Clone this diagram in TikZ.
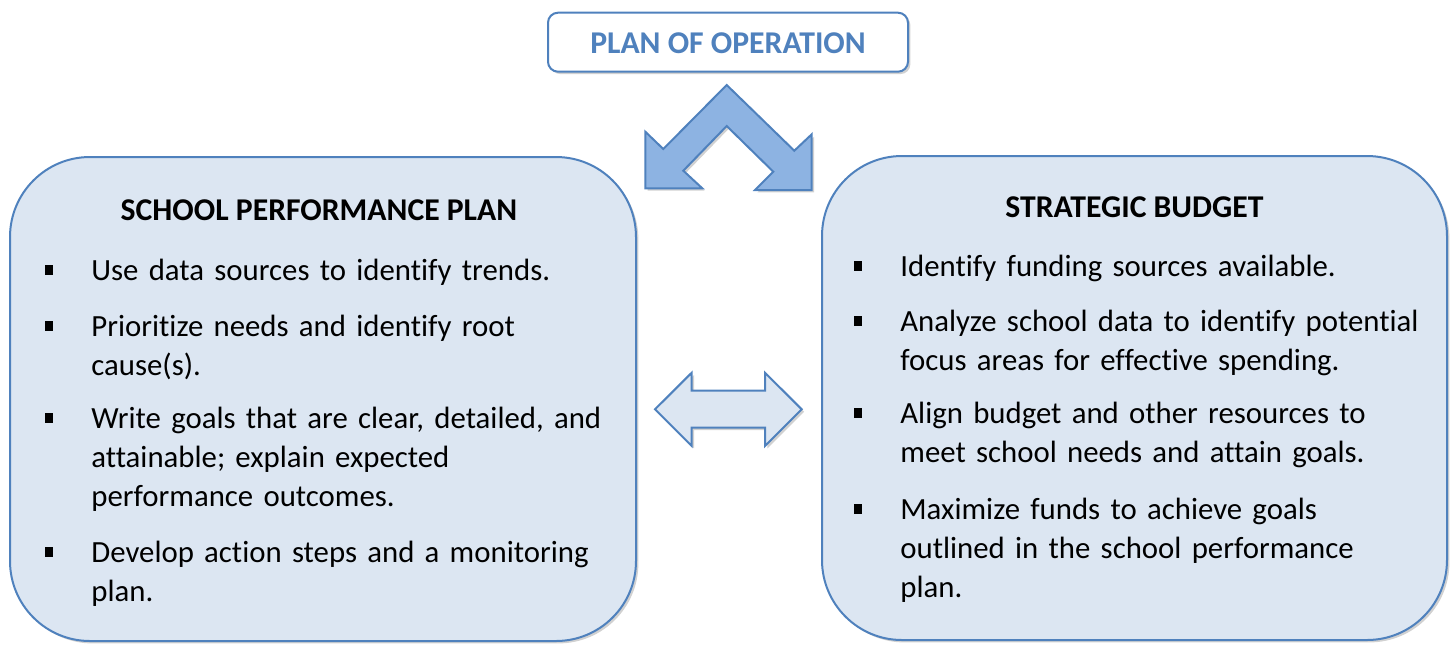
\documentclass[tikz,border=0pt]{standalone}
\usepackage{fontspec}
\setmainfont{Carlito}[Ligatures=NoCommon]
\usetikzlibrary{shadows}

\definecolor{planblue}{HTML}{4F81BD}
\definecolor{panelfill}{HTML}{DCE6F2}
\definecolor{bendfill}{HTML}{8DB3E2}

\newcommand{\planfont}{\fontsize{15.85pt}{19.5pt}\selectfont}
\newcommand{\itemfont}{\fontsize{15.4pt}{19.5pt}\selectfont}

\tikzset{
    softshadow/.style={drop shadow={shadow xshift=1.2pt, shadow yshift=-1.2pt, opacity=0.3, fill=black!60}},
    panel/.style={draw=planblue, line width=1pt, fill=panelfill, rounded corners=40pt, softshadow},
    headbox/.style={draw=planblue, line width=1pt, fill=white, rounded corners=5pt, softshadow,
        font=\planfont\bfseries, text=planblue, text height=11.3pt, text depth=0pt},
    blockarrow/.style={draw=planblue, line width=1pt, line join=miter, softshadow},
    paneltitle/.style={anchor=base, inner sep=0, font=\planfont\bfseries},
    item/.style={anchor=base west, inner sep=0, text width=272pt, align=left, font=\itemfont},
    bullet/.style={fill, rectangle, minimum width=4.3pt, minimum height=4.6pt, inner sep=0, outer sep=0}
}

\begin{document}
\begin{tikzpicture}[x=0.5pt,y=-0.5pt]
    \useasboundingbox (0,0) rectangle (1453,645);

    % top heading
    \node[headbox, minimum width=180pt, minimum height=29.5pt] (plan) at (728,42.2) {PLAN OF OPERATION};

    % bent arrow under the heading
    \draw[blockarrow, fill=bendfill] (726.7,85) -- (663.3,149) -- (645.3,131.7) -- (645.3,188.3)
        -- (702.3,188.3) -- (683.3,170.7) -- (726.7,126) -- (773.3,171.7) -- (755,190)
        -- (811.7,190) -- (811.7,134.3) -- (794.3,150.7) -- cycle;

    % the two panels
    \node[panel, minimum width=313pt, minimum height=242pt] (spp) at (323,399) {};
    \node[panel, minimum width=312.5pt, minimum height=242pt] (budget) at (1134.5,398) {};

    % double arrow between the panels
    \draw[blockarrow, fill=panelfill] (655,409.3) -- (691.7,372.7) -- (691.7,390.7) -- (765,390.7)
        -- (765,372.7) -- (801.7,409.3) -- (765,446) -- (765,427.7) -- (691.7,427.7)
        -- (691.7,446) -- cycle;

    % school performance plan
    \node[paneltitle] (spptitle) at (319,220) {SCHOOL PERFORMANCE PLAN};
    \node[item] (spp1) at (91,280) {Use data sources to identify trends.};
    \node[item] (spp2) at (91,336) {Prioritize needs and identify root\\cause(s).};
    \node[item] (spp3) at (91,428) {Write goals that are clear, detailed, and\\attainable; explain expected\\performance outcomes.};
    \node[item] (spp4) at (91,562) {Develop action steps and a monitoring\\plan.};
    \node[bullet] (sppb1) at (49,270) {};
    \node[bullet] (sppb2) at (49,326) {};
    \node[bullet] (sppb3) at (49,418) {};
    \node[bullet] (sppb4) at (49,552) {};

    % strategic budget
    \node[paneltitle] (budgettitle) at (1134.5,217) {STRATEGIC BUDGET};
    \node[item] (budget1) at (900,276) {Identify funding sources available.};
    \node[item] (budget2) at (900,331) {Analyze school data to identify potential\\focus areas for effective spending.};
    \node[item] (budget3) at (900,423) {Align budget and other resources to\\meet school needs and attain goals.};
    \node[item] (budget4) at (900,519) {Maximize funds to achieve goals\\outlined in the school performance\\plan.};
    \node[bullet] (budgetb1) at (858,266) {};
    \node[bullet] (budgetb2) at (858,321) {};
    \node[bullet] (budgetb3) at (858,413) {};
    \node[bullet] (budgetb4) at (858,509) {};
\end{tikzpicture}
\end{document}
